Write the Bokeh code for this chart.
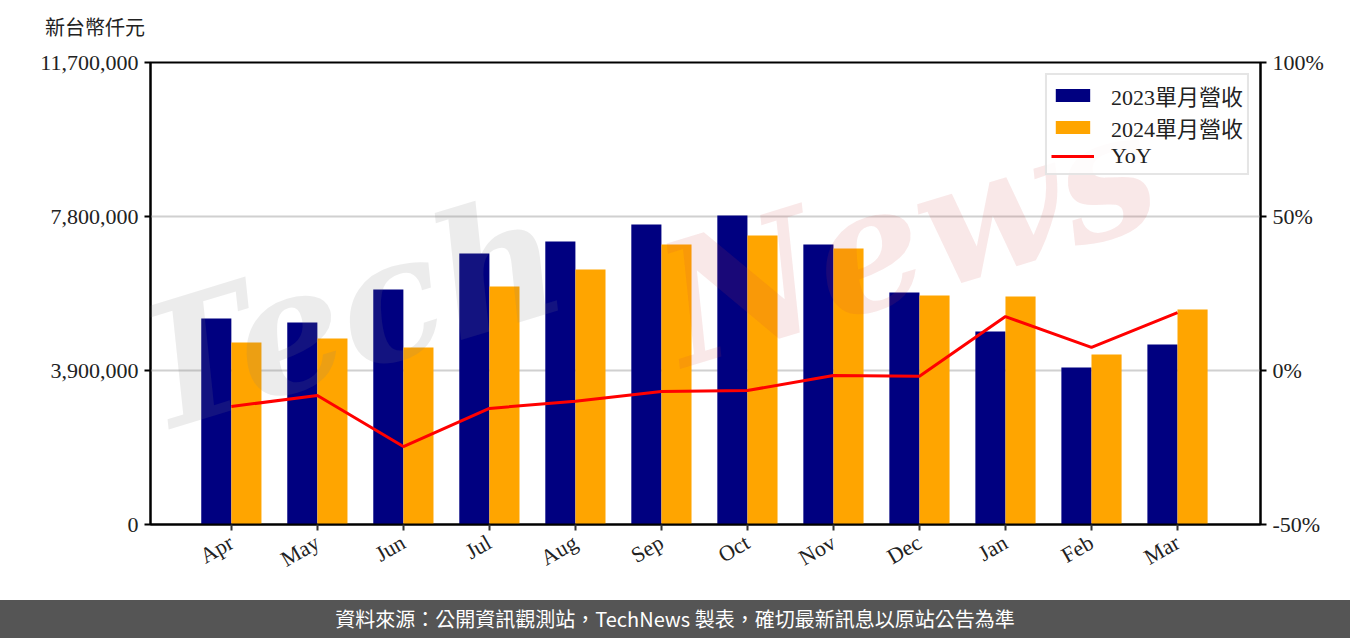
import math
from bokeh.plotting import figure
from bokeh.models import (ColumnDataSource, Range1d, LinearAxis, FixedTicker,
                          NumeralTickFormatter, PrintfTickFormatter, Legend,
                          LegendItem, Label, Div)
from bokeh.layouts import column
from bokeh.transform import dodge
from bokeh.embed import file_html
from bokeh.resources import INLINE

months = ["Apr", "May", "Jun", "Jul", "Aug", "Sep", "Oct", "Nov", "Dec", "Jan", "Feb", "Mar"]
rev_2023 = [5217000, 5116000, 5951000, 6863000, 7167000, 7597000, 7825000, 7091000, 5875000, 4888000, 3976000, 4558000]
rev_2024 = [4609000, 4710000, 4483000, 6027000, 6458000, 7091000, 7319000, 6990000, 5799000, 5774000, 4305000, 5445000]
yoy = [-11.7, -8.1, -24.7, -12.3, -10.0, -6.8, -6.5, -1.6, -1.9, 17.5, 7.5, 18.8]
left_ticks = [0, 3900000, 7800000, 11700000]
right_ticks = [-50, 0, 50, 100]
series_names = ["2023單月營收", "2024單月營收", "YoY"]
y_unit = "新台幣仟元"
footer_text = "資料來源：公開資訊觀測站，TechNews 製表，確切最新訊息以原站公告為準"

SERIF = "Liberation Serif, Noto Sans CJK TC"
SANS = "Noto Sans CJK TC"
FS = "22px"

src = ColumnDataSource(dict(x=list(range(len(months))), r23=rev_2023, r24=rev_2024, yoy=yoy))

p = figure(width=1350, height=560, output_backend="svg", toolbar_location=None,
           x_range=Range1d(-0.94, 11.965), y_range=Range1d(0, 11700000),
           min_border_left=150, min_border_right=90, min_border_top=22, min_border_bottom=76,
           background_fill_color="white", border_fill_color="white")
p.extra_y_ranges = {"pct": Range1d(-50, 100)}

p.outline_line_color = "black"
p.outline_line_width = 2
p.outline_line_alpha = 1

b1 = p.vbar(x=dodge("x", -0.175, range=p.x_range), top="r23", width=0.35, source=src,
            fill_color="#000080", line_color=None)
b2 = p.vbar(x=dodge("x", 0.175, range=p.x_range), top="r24", width=0.35, source=src,
            fill_color="#FFA500", line_color=None)
ln = p.line(x="x", y="yoy", source=src, y_range_name="pct", line_color="#FF0000", line_width=3)

# axes
p.xaxis.ticker = FixedTicker(ticks=list(range(len(months))))
p.xaxis.major_label_overrides = {i: m for i, m in enumerate(months)}
p.xaxis.major_label_orientation = math.radians(30)
p.xaxis.minor_tick_line_color = None
p.xaxis.major_tick_in = 0
p.xaxis.major_tick_out = 6
p.xaxis.major_tick_line_color = "#333333"
p.xaxis.major_tick_line_width = 2
p.xaxis.axis_line_color = "black"
p.xaxis.axis_line_width = 2
p.xaxis.major_label_text_font = SERIF
p.xaxis.major_label_text_font_size = FS
p.xaxis.major_label_text_color = "#222222"
p.xaxis.major_label_standoff = 10

p.yaxis.ticker = FixedTicker(ticks=left_ticks)
p.yaxis.formatter = NumeralTickFormatter(format="0,0")
p.yaxis.minor_tick_line_color = None
p.yaxis.major_tick_in = 0
p.yaxis.major_tick_out = 6
p.yaxis.major_tick_line_width = 2
p.yaxis.axis_line_color = "black"
p.yaxis.axis_line_width = 2
p.yaxis.major_label_text_font = SERIF
p.yaxis.major_label_text_font_size = FS
p.yaxis.major_label_text_color = "#222222"
p.yaxis.major_label_standoff = 6

ax2 = LinearAxis(y_range_name="pct", ticker=FixedTicker(ticks=right_ticks),
                 formatter=PrintfTickFormatter(format="%d%%"))
ax2.minor_tick_line_color = None
ax2.major_tick_in = 0
ax2.major_tick_out = 6
ax2.major_tick_line_width = 2
ax2.axis_line_color = "black"
ax2.axis_line_width = 2
ax2.major_label_text_font = SERIF
ax2.major_label_text_font_size = FS
ax2.major_label_text_color = "#222222"
ax2.major_label_standoff = 6
p.add_layout(ax2, "right")

p.xgrid.grid_line_color = None
p.ygrid.ticker = FixedTicker(ticks=left_ticks)
p.ygrid.grid_line_color = "#d0d0d0"
p.ygrid.grid_line_width = 2

# watermark
p.add_layout(Label(x=-0.8, y=1300000, text="Tech", angle=math.radians(17),
                   text_font="DejaVu Serif", text_font_style="bold italic", text_font_size="170px",
                   text_color="#808080", text_alpha=0.15))
p.add_layout(Label(x=5.4, y=3000000, text="News", angle=math.radians(17),
                   text_font="DejaVu Serif", text_font_style="bold italic", text_font_size="170px",
                   text_color="#d04040", text_alpha=0.12))

legend = Legend(items=[LegendItem(label=series_names[0], renderers=[b1]),
                       LegendItem(label=series_names[1], renderers=[b2]),
                       LegendItem(label=series_names[2], renderers=[ln])],
                location="top_right")
legend.label_text_font = SERIF
legend.label_text_font_size = FS
legend.label_text_line_height = 1.0
legend.label_text_color = "#222222"
legend.glyph_width = 43
legend.glyph_height = 16
legend.label_height = 22
legend.label_standoff = 17
legend.spacing = 0
legend.padding = 4
legend.margin = 11
legend.border_line_color = "#cccccc"
legend.border_line_width = 2
legend.background_fill_alpha = 0.85
p.add_layout(legend)

header = Div(text='<div style="width:300px;height:40px;padding-left:45px;padding-top:15px;'
                  'box-sizing:border-box;line-height:24px;font-size:20px;color:#222222;'
                  'font-family:\'Noto Sans CJK TC\';">' + y_unit + '</div>',
             width=1350, height=40, margin=0)

footer = Div(text='<div style="width:1350px;height:38px;line-height:38px;background:#555555;'
                  'color:white;font-size:20px;text-align:center;font-family:\'Noto Sans CJK TC\';">'
                  + footer_text + '</div>',
             width=1350, height=38, margin=0)

layout = column(header, p, footer, spacing=0)
open("out.html", "w").write(file_html(layout, INLINE))
